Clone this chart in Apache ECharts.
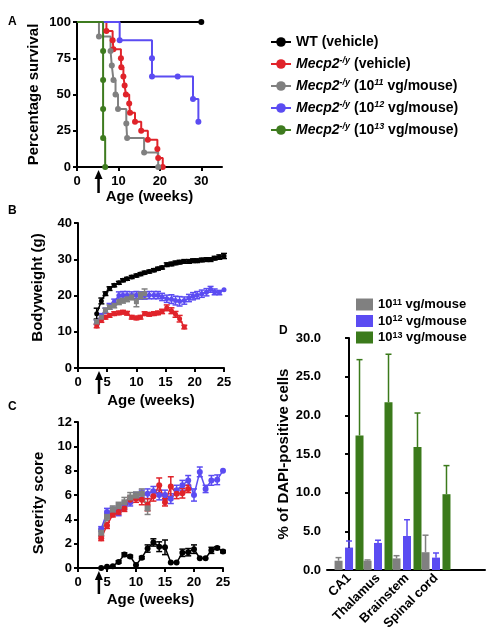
<!DOCTYPE html>
<html>
<head>
<meta charset="utf-8">
<script src="https://cdn.jsdelivr.net/npm/echarts@6.0.0/dist/echarts.min.js"></script>
<style>
  html, body { margin: 0; padding: 0; background: #fff; }
  #main { width: 496px; height: 633px; }
</style>
</head>
<body>
<div id="main"></div>
<script>
const FONT = '"Liberation Sans", Arial, sans-serif';

// group names + colours
const GROUPS = ['WT (vehicle)', 'Mecp2 (vehicle)', 'Mecp2 (10^11)', 'Mecp2 (10^12)', 'Mecp2 (10^13)'];
const COLORS = ['#000000', '#e0232a', '#808080', '#5b4cf2', '#3e7b1f'];

// A: Kaplan-Meier survival, [age (weeks), % surviving]
const KM_WT = [[0, 100], [30, 100]];
const KM_VEH = [[0, 100], [7.1, 93.75], [8.6, 87.5], [8.8, 81.25], [10.6, 75], [10.7, 68.75], [11.2, 62.5],
  [11.5, 56.25], [11.8, 50], [12.6, 43.75], [12.8, 37.5], [14, 31.25], [15.5, 25], [17.1, 18.75],
  [19.4, 12.5], [19.6, 6.25], [20.7, 0]];
const KM_E11 = [[0, 100], [5.3, 90], [8.1, 80], [8.4, 70], [8.8, 60], [9.3, 50], [9.9, 40], [11.9, 30],
  [12.1, 20], [16.2, 10], [19.6, 0]];
const KM_E12 = [[0, 100], [10.3, 87.5], [18.1, 75], [18.1, 62.5], [24.3, 62.5], [28, 46.9], [29.3, 31.25]];
const KM_E13 = [[0, 100], [6.3, 80], [6.3, 60], [6.3, 40], [6.3, 20], [6.8, 0]];

// B: bodyweight (g)
const BW_AGE = [3.2, 4, 4.7, 5.4, 6.2, 7, 7.7, 8.4, 9.2, 10, 10.7, 11.4, 12.2, 13, 13.7, 14.4, 15.2, 16,
  16.7, 17.4, 18.2, 19, 19.7, 20.4, 21.2, 22, 22.7, 23.4, 24.2, 25];
const BW_WT = [15.0, 18.5, 20.5, 21.9, 22.8, 23.5, 24.2, 24.6, 25.1, 25.5, 25.9, 26.3, 26.6, 27.0, 27.4,
  27.7, 28.5, 28.7, 29.0, 29.2, 29.4, 29.4, 29.6, 29.6, 29.8, 29.9, 29.9, 30.3, 30.6, 30.9];
const BW_WT_ERR = [1.5, 0.8, 0.5, 0.5, 0.4, 0.4, 0.4, 0.4, 0.4, 0.4, 0.4, 0.4, 0.4, 0.4, 0.4, 0.4, 0.5,
  0.5, 0.5, 0.5, 0.5, 0.5, 0.5, 0.5, 0.5, 0.5, 0.5, 0.5, 0.6, 0.7];
const BW_VEH = [11.6, 13.1, 14.0, 14.5, 15.0, 15.2, 15.4, 15.1, 14.0, 13.8, 14.0, 15.0, 14.8, 15.0, 15.2,
  15.6, 16.6, 15.8, 14.8, 13.6, 11.3];
const BW_VEH_ERR = [0.5, 0.5, 0.5, 0.5, 0.5, 0.5, 0.5, 0.5, 0.5, 0.5, 0.5, 0.5, 0.5, 0.5, 0.5, 0.6, 0.8,
  0.8, 0.8, 0.9, 0.5];
const BW_E11 = [12.7, 14.0, 15.9, 16.8, 17.3, 18.2, 18.6, 19.1, 19.6, 18.3, 20.0, 20.5];
const BW_E11_ERR = [0.6, 0.6, 0.6, 0.6, 0.7, 0.7, 0.7, 0.8, 0.8, 1.4, 0.9, 1.3];
const BW_E12 = [12.6, 14.4, 15.8, 17.0, 18.2, 20.0, 20.1, 20.1, 20.0, 20.1, 20.0, 20.0, 20.1, 20.1, 20.1,
  19.6, 19.1, 19.0, 18.6, 18.4, 18.6, 19.3, 19.8, 20.1, 20.5, 20.9, 21.7, 21.0, 20.8, 21.6];
const BW_E12_ERR = [0.6, 0.6, 0.7, 0.8, 0.8, 1.0, 1.0, 1.0, 1.0, 1.0, 1.0, 1.0, 1.0, 1.0, 1.0, 1.0, 1.0,
  1.2, 1.2, 1.3, 1.0, 1.0, 1.0, 1.0, 1.0, 1.0, 0.8, 0.8, 0.6, 0];

// C: severity score
const SS_AGE = [4, 5, 6, 7, 8, 9, 10, 11, 12, 13, 14, 15, 16, 17, 18, 19, 20, 21, 22, 23, 24, 25];
const SS_WT = [0, 0.1, 0.15, 0.5, 1.1, 0.95, 0.25, 0.85, 1.6, 2.1, 1.75, 1.7, 0.45, 0.45, 1.25, 1.3, 1.55,
  0.8, 0.8, 1.45, 1.65, 1.35];
const SS_WT_ERR = [0, 0, 0, 0.1, 0.15, 0.1, 0, 0.1, 0.3, 0.3, 0.4, 0.6, 0, 0, 0.3, 0.3, 0.35, 0, 0, 0.25,
  0.1, 0.1];
const SS_VEH = [2.45, 3.5, 4.4, 4.6, 4.9, 5.6, 5.7, 5.6, 5.2, 5.9, 6.8, 5.4, 6.7, 6.1, 6.15, 6.5];
const SS_VEH_ERR = [0.2, 0.25, 0.2, 0.2, 0.25, 0.3, 0.3, 0.4, 0.5, 0.4, 0.6, 0.3, 0.8, 0.4, 0.4, 0.3];
const SS_E11 = [2.9, 4.2, 4.8, 5.1, 5.4, 5.8, 5.95, 6.1, 4.9];
const SS_E11_ERR = [0.3, 0.3, 0.3, 0.3, 0.4, 0.4, 0.3, 0.4, 0.5];
const SS_E12 = [3.2, 4.6, 4.7, 4.6, 5.1, 5.4, 5.9, 6.1, 6.1, 6.3, 6.0, 6.0, 5.7, 6.4, 6.8, 7.2, 6.0, 7.9,
  6.5, 7.2, 7.25, 8.0];
const SS_E12_ERR = [0.2, 0.3, 0.3, 0.3, 0.3, 0.3, 0.3, 0.3, 0.4, 0.4, 0.4, 0.4, 0.4, 0.4, 0.4, 0.4, 0.5,
  0.4, 0.3, 0.4, 0.4, 0];

// D: % of DAPI-positive cells
const D_SITES = ['CA1', 'Thalamus', 'Brainstem', 'Spinal cord'];
const D_POS = [0, 1, 2, 3];
const D_DOSES = ['11', '12', '13'];
const D_VAL = [[1.2, 1.2, 1.5, 2.3], [2.9, 3.5, 4.4, 1.6], [17.4, 21.7, 15.9, 9.8]];
const D_ERR = [[0.4, 0.1, 0.35, 2.2], [0.85, 0.35, 2.1, 0.6], [9.8, 6.2, 4.4, 3.7]];
const D_COLORS = ['#808080', '#5b4cf2', '#3b7a1b'];

// injection arrows, age per panel A, B, C
const ARROW_AGE = [5.2, 3.6, 3.6];

const BAR_W = 8;
const BAR_GAP = 0.31;

function axis(extra, label) {
  return Object.assign({
    axisLine: { show: true, lineStyle: { color: '#000', width: 2 } },
    axisTick: { show: true, length: 4, lineStyle: { color: '#000', width: 2 } },
    axisLabel: Object.assign({ color: '#000', fontFamily: FONT, fontWeight: 'bold', fontSize: 13, margin: 6 }, label),
    splitLine: { show: false },
    nameLocation: 'middle',
    nameTextStyle: { color: '#000', fontFamily: FONT, fontWeight: 'bold', fontSize: 15 }
  }, extra);
}

// error bar drawn in data space
function errBar(offset, upperOnly) {
  return function (params, api) {
    const x = api.value(0), y = api.value(1), e = api.value(2);
    if (!e) return { type: 'group', children: [] };
    const top = api.coord([x, y + e]);
    const bot = api.coord([x, upperOnly ? y : y - e]);
    const cx = top[0] + offset;
    const cap = 3;
    const style = { stroke: api.visual('color'), lineWidth: 1.5 };
    const kids = [
      { type: 'line', shape: { x1: cx, y1: top[1], x2: cx, y2: bot[1] }, style },
      { type: 'line', shape: { x1: cx - cap, y1: top[1], x2: cx + cap, y2: top[1] }, style }
    ];
    if (!upperOnly) kids.push({ type: 'line', shape: { x1: cx - cap, y1: bot[1], x2: cx + cap, y2: bot[1] }, style });
    return { type: 'group', children: kids };
  };
}

function kmSeries(idx, pts) {
  return {
    type: 'line', name: GROUPS[idx], xAxisIndex: 0, yAxisIndex: 0, step: 'end',
    symbol: 'circle', symbolSize: 6, color: COLORS[idx],
    lineStyle: { width: 2 },
    data: pts.map((p, i) => (i === 0 ? { value: p, symbol: 'none' } : p))
  };
}

function grpSeries(g, idx, ages, vals, errs, symbol, size) {
  return [
    {
      type: 'custom', name: GROUPS[idx], xAxisIndex: g, yAxisIndex: g, color: COLORS[idx],
      renderItem: errBar(0, false), encode: { x: 0, y: 1 },
      data: vals.map((v, i) => [ages[i], v, errs[i]])
    },
    {
      type: 'line', name: GROUPS[idx], xAxisIndex: g, yAxisIndex: g, color: COLORS[idx],
      symbol, symbolSize: size, lineStyle: { width: 1.5 },
      data: vals.map((v, i) => [ages[i], v])
    }
  ];
}

const series = [
  kmSeries(0, KM_WT), kmSeries(1, KM_VEH), kmSeries(2, KM_E11), kmSeries(3, KM_E12), kmSeries(4, KM_E13),
  ...grpSeries(1, 0, BW_AGE, BW_WT, BW_WT_ERR, 'circle', 5),
  ...grpSeries(1, 3, BW_AGE, BW_E12, BW_E12_ERR, 'circle', 5),
  ...grpSeries(1, 1, BW_AGE, BW_VEH, BW_VEH_ERR, 'circle', 5),
  ...grpSeries(1, 2, BW_AGE, BW_E11, BW_E11_ERR, 'rect', 5),
  ...grpSeries(2, 0, SS_AGE, SS_WT, SS_WT_ERR, 'circle', 6),
  ...grpSeries(2, 3, SS_AGE, SS_E12, SS_E12_ERR, 'circle', 6),
  ...grpSeries(2, 1, SS_AGE, SS_VEH, SS_VEH_ERR, 'circle', 6),
  ...grpSeries(2, 2, SS_AGE, SS_E11, SS_E11_ERR, 'rect', 6)
];

D_DOSES.forEach((d, k) => {
  series.push({
    type: 'bar', name: 'd' + d, xAxisIndex: 3, yAxisIndex: 3, color: D_COLORS[k],
    barWidth: BAR_W, barGap: (BAR_GAP * 100) + '%',
    data: D_POS.map((p, i) => [p, D_VAL[k][i]])
  });
  series.push({
    type: 'custom', name: 'd' + d, xAxisIndex: 3, yAxisIndex: 3, color: D_COLORS[k],
    renderItem: errBar((k - 1) * BAR_W * (1 + BAR_GAP), true), encode: { x: 0, y: 1 },
    data: D_POS.map((p, i) => [p, D_VAL[k][i], D_ERR[k][i]])
  });
});

function legendLabel(name) {
  if (name === GROUPS[0]) return '{b|WT (vehicle)}';
  const tail = name.replace('Mecp2 ', '');
  const m = tail.match(/10\^(\d+)/);
  if (m) return '{i|Mecp2}{s|-/y}{b| (10}{s|' + m[1] + '}{b| vg/mouse)}';
  return '{i|Mecp2}{s|-/y}{b| ' + tail + '}';
}

const chart = echarts.init(document.getElementById('main'));
chart.setOption({
  animation: false,
  backgroundColor: '#fff',
  textStyle: { fontFamily: FONT },
  grid: [
    { left: 77, top: 22, width: 145, height: 145 },
    { left: 78, top: 223, width: 146, height: 145 },
    { left: 78, top: 422, width: 145, height: 146 },
    { left: 327, top: 338, width: 158, height: 232 }
  ],
  xAxis: [
    axis({ gridIndex: 0, type: 'value', min: 0, max: 35, name: 'Age (weeks)', nameGap: 22,
      axisTick: { show: true, length: 4, customValues: [0, 10, 20, 30], lineStyle: { color: '#000', width: 2 } } },
      { customValues: [0, 10, 20, 30], margin: 8 }),
    axis({ gridIndex: 1, type: 'value', min: 0, max: 25, interval: 5, name: 'Age (weeks)', nameGap: 25 }, { margin: 8 }),
    axis({ gridIndex: 2, type: 'value', min: 0, max: 25, interval: 5, name: 'Age (weeks)', nameGap: 24 }, { margin: 8 }),
    axis({ gridIndex: 3, type: 'value', min: -0.76, max: 4.69, axisTick: { show: false } },
      { customValues: D_POS, rotate: 45, margin: 6, formatter: v => D_SITES[Math.round(v)] })
  ],
  yAxis: [
    axis({ gridIndex: 0, type: 'value', min: 0, max: 100, interval: 25, name: 'Percentage survival', nameGap: 36 }),
    axis({ gridIndex: 1, type: 'value', min: 0, max: 40, interval: 10, name: 'Bodyweight (g)', nameGap: 33,
      nameTextStyle: { color: '#000', fontFamily: FONT, fontWeight: 'bold', fontSize: 15, padding: [0, 0, 0, 16] } }),
    axis({ gridIndex: 2, type: 'value', min: 0, max: 12, interval: 2, name: 'Severity score', nameGap: 32,
      nameTextStyle: { color: '#000', fontFamily: FONT, fontWeight: 'bold', fontSize: 15, padding: [0, 16, 0, 0] } }),
    axis({ gridIndex: 3, type: 'value', min: 0, max: 30, interval: 5, name: '% of DAPI-positive cells', nameGap: 34 },
      { formatter: v => v.toFixed(1) })
  ],
  legend: [
    {
      data: GROUPS, orient: 'vertical', left: 270, top: 34, padding: 0, itemWidth: 20, itemHeight: 12,
      itemGap: 6, selectedMode: false, formatter: legendLabel,
      textStyle: {
        color: '#000', fontFamily: FONT, fontWeight: 'bold', fontSize: 14, lineHeight: 16,
        rich: {
          b: { fontFamily: FONT, fontWeight: 'bold', fontSize: 14, lineHeight: 16 },
          i: { fontFamily: FONT, fontWeight: 'bold', fontStyle: 'italic', fontSize: 14, lineHeight: 16 },
          s: { fontFamily: FONT, fontWeight: 'bold', fontStyle: 'italic', fontSize: 9, lineHeight: 16, verticalAlign: 'top' }
        }
      }
    },
    {
      data: D_DOSES.map(d => 'd' + d), orient: 'vertical', left: 356, top: 298, padding: 0,
      itemWidth: 17, itemHeight: 12, itemGap: 3.5, icon: 'rect', selectedMode: false,
      formatter: n => '{b|10}{s|' + n.slice(1) + '}{b| vg/mouse}',
      textStyle: {
        color: '#000', fontFamily: FONT, fontWeight: 'bold', fontSize: 13, lineHeight: 13,
        rich: {
          b: { fontFamily: FONT, fontWeight: 'bold', fontSize: 13, lineHeight: 13 },
          s: { fontFamily: FONT, fontWeight: 'bold', fontSize: 9, lineHeight: 13, verticalAlign: 'top' }
        }
      }
    }
  ],
  series
});

// panel letters + injection arrows
const graphics = [['A', 8, 16], ['B', 8, 205], ['C', 8, 401], ['D', 279, 325]].map(([t, x, y]) => ({
  type: 'text', left: x, top: y, style: { text: t, font: 'bold 12px ' + FONT, fill: '#000' }
}));
ARROW_AGE.forEach((age, g) => {
  const p = chart.convertToPixel({ gridIndex: g }, [age, 0]);
  const x = p[0], y = p[1];
  graphics.push({
    type: 'group', children: [
      { type: 'line', shape: { x1: x, y1: y + 10, x2: x, y2: y + 26 }, style: { stroke: '#000', lineWidth: 2.5 } },
      { type: 'polygon', shape: { points: [[x, y + 3], [x - 4, y + 12], [x + 4, y + 12]] }, style: { fill: '#000' } }
    ]
  });
});
chart.setOption({ graphic: graphics });
</script>
</body>
</html>
